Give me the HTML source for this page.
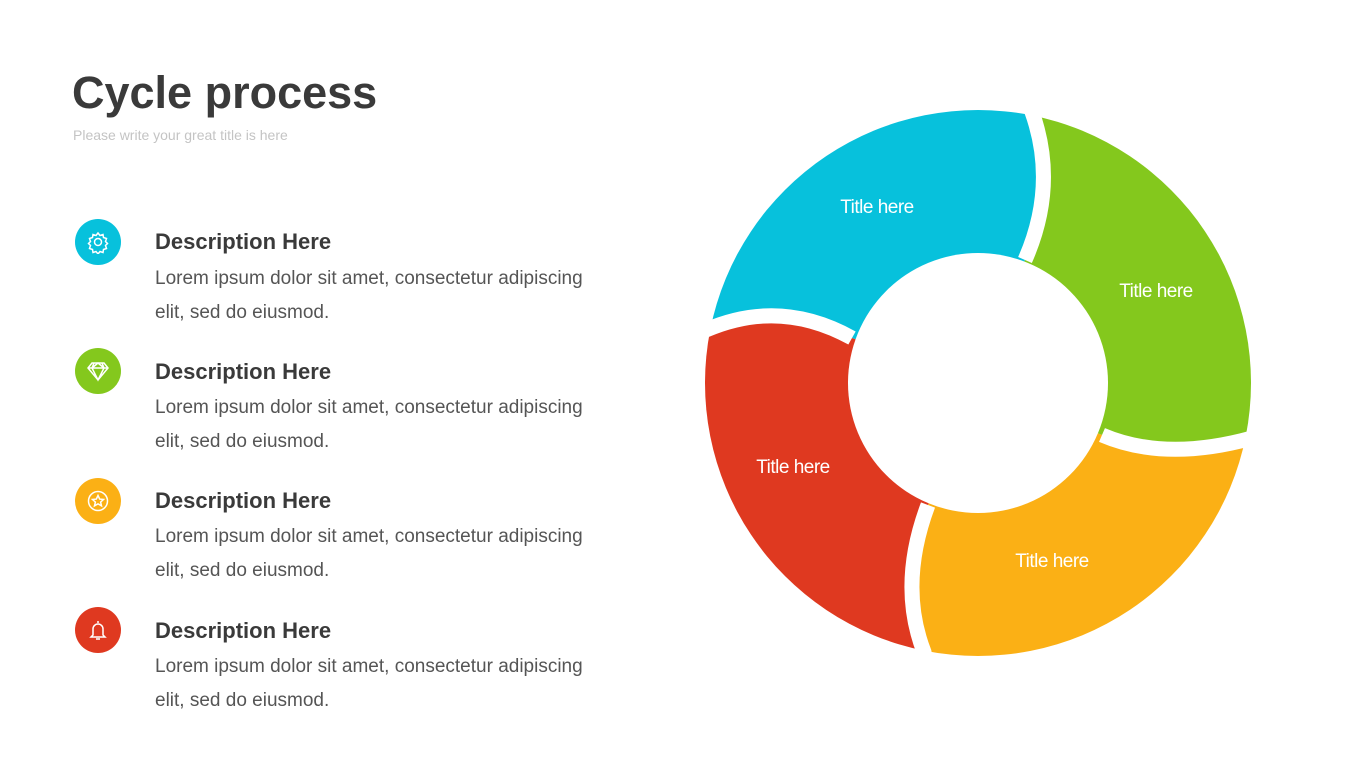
<!DOCTYPE html>
<html><head><meta charset="utf-8"><style>
body{margin:0;width:1365px;height:768px;background:#fff;position:relative;overflow:hidden;font-family:"Liberation Sans",sans-serif}
.t{position:absolute;left:72px;top:67px;font-size:45px;font-weight:bold;color:#3a3a3a;letter-spacing:0px}
.s{position:absolute;left:73px;top:127px;font-size:14px;color:#c4c4c4}
.h{position:absolute;left:155px;font-size:22px;font-weight:bold;color:#3a3a3a}
.b{position:absolute;left:155px;font-size:19px;color:#555;line-height:34px;width:460px}
.c{position:absolute;left:75px;width:46px;height:46px;border-radius:50%}
.c svg{position:absolute;left:11px;top:11px}
</style></head><body>
<div class="t">Cycle process</div>
<div class="s">Please write your great title is here</div>

<div class="c" style="top:219px;background:#07c1dc"><svg width="24" height="24" viewBox="0 0 24 24" fill="none" stroke="#fff" stroke-width="1.5"><circle cx="12" cy="12" r="3.5"/><path d="M12 3l2 2.5 3-1 .5 3 3 1-1 3 2 2-2 2 1 3-3 1-.5 3-3-1-2 2.5-2-2.5-3 1-.5-3-3-1 1-3-2-2 2-2-1-3 3-1 .5-3 3 1z"/></svg></div>
<div class="h" style="top:229px">Description Here</div>
<div class="b" style="top:262px">Lorem ipsum dolor sit amet, consectetur adipiscing elit, sed do eiusmod.</div>

<div class="c" style="top:348px;background:#84c81d"><svg width="24" height="24" viewBox="0 0 24 24" fill="none" stroke="#fff" stroke-width="1.5"><path d="M6 4h12l4 5-10 12L2 9z M2 9h20 M8 4l-2 5 6 12 6-12-2-5 M6 9l6-5 6 5"/></svg></div>
<div class="h" style="top:359px">Description Here</div>
<div class="b" style="top:391px">Lorem ipsum dolor sit amet, consectetur adipiscing elit, sed do eiusmod.</div>

<div class="c" style="top:478px;background:#fbb015"><svg width="24" height="24" viewBox="0 0 24 24" fill="none" stroke="#fff" stroke-width="1.5"><circle cx="12" cy="12" r="9.5"/><path d="M12 6.5l1.7 3.6 3.8.4-2.9 2.6.9 3.8-3.5-2-3.5 2 .9-3.8-2.9-2.6 3.8-.4z"/></svg></div>
<div class="h" style="top:488px">Description Here</div>
<div class="b" style="top:520px">Lorem ipsum dolor sit amet, consectetur adipiscing elit, sed do eiusmod.</div>

<div class="c" style="top:607px;background:#df3920"><svg width="24" height="24" viewBox="0 0 24 24" fill="none" stroke="#fff" stroke-width="1.5"><path d="M12 3v2 M7 17V11a5 5 0 0110 0v6l2 2H5z M10 21h4"/></svg></div>
<div class="h" style="top:618px">Description Here</div>
<div class="b" style="top:650px">Lorem ipsum dolor sit amet, consectetur adipiscing elit, sed do eiusmod.</div>

<svg style="position:absolute;left:0;top:0" width="1365" height="768">
<defs><mask id="m"><circle cx="978" cy="383" r="273" fill="#fff"/><circle cx="978" cy="383" r="130" fill="#000"/></mask></defs>
<g mask="url(#m)">
<path fill="#07c1dc" d="M852,338 Q780,298 706,330 L600,330 L600,0 L1035,0 L1032,112 Q1058,185 1025,260 L978,383 Z"/>
<path fill="#84c81d" d="M1025,260 Q1058,185 1032,112 L1035,0 L1365,0 L1365,438 L1252,438 Q1165,462 1102,435 L978,383 Z"/>
<path fill="#fbb015" d="M1102,435 Q1165,462 1252,438 L1365,438 L1365,768 L924,768 L924,652 Q898,585 928,505 L978,383 Z"/>
<path fill="#df3920" d="M928,505 Q898,585 924,652 L924,768 L600,768 L600,330 L706,330 Q780,298 852,338 L978,383 Z"/>
<g fill="none" stroke="#fff" stroke-width="15">
<path d="M1035,90 L1032,112 Q1058,185 1025,260"/>
<path d="M1102,435 Q1165,462 1252,438 L1275,432"/>
<path d="M928,505 Q898,585 924,652 L928,675"/>
<path d="M852,338 Q780,298 706,330 L685,340"/>
</g>
</g>
<g fill="#fff" font-family="Liberation Sans, sans-serif" font-size="19" text-anchor="middle" letter-spacing="-0.5">
<text x="877" y="213">Title here</text>
<text x="1156" y="297">Title here</text>
<text x="793" y="473">Title here</text>
<text x="1052" y="567">Title here</text>
</g>
</svg>
</body></html>
